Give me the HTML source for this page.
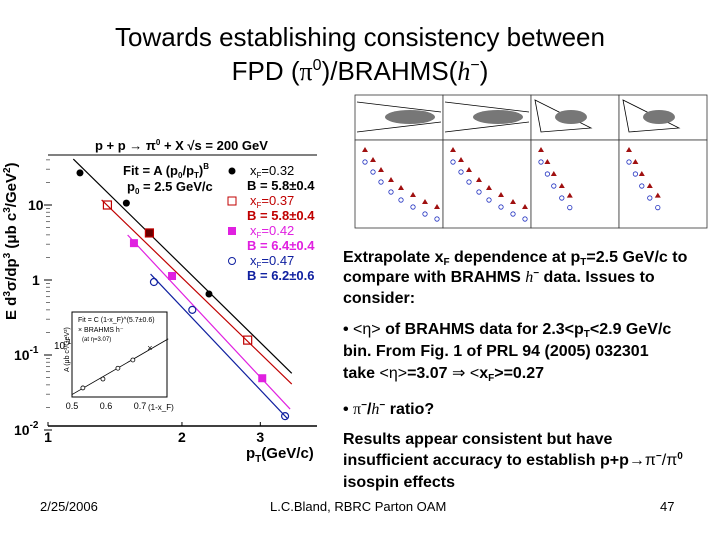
<!DOCTYPE html>
<html><head><meta charset="utf-8"><style>
body{margin:0;background:#fff;}
svg{display:block;font-family:"Liberation Sans",sans-serif;}
</style></head><body>
<svg id="s" width="720" height="540" viewBox="0 0 720 540">
<g font-size="26" text-anchor="middle">
<text x="360" y="46">Towards establishing consistency between</text>
<text x="360" y="80">FPD (<tspan font-family="Liberation Serif">π</tspan><tspan font-size="16" dy="-10">0</tspan><tspan dy="10">)/BRAHMS(</tspan><tspan font-family="Liberation Serif" font-style="italic">h</tspan><tspan font-size="16" dy="-10">−</tspan><tspan dy="10">)</tspan></text>
</g>
<g id="chart"></g>
<g id="brahms"></g>
<g font-size="16" font-weight="bold" fill="#000">
<text x="343" y="262">Extrapolate x<tspan font-size="10" dy="3">F</tspan><tspan dy="-3"> dependence at p</tspan><tspan font-size="10" dy="3">T</tspan><tspan dy="-3">=2.5 GeV/c to</tspan></text>
<text x="343" y="282">compare with BRAHMS <tspan font-family="Liberation Serif" font-style="italic" font-weight="normal">h</tspan><tspan font-size="10" dy="-6">−</tspan><tspan dy="6"> data.  Issues to</tspan></text>
<text x="343" y="303">consider:</text>
<text x="343" y="334">•  <tspan font-weight="normal">&lt;η&gt;</tspan> of BRAHMS data for 2.3&lt;p<tspan font-size="10" dy="3">T</tspan><tspan dy="-3">&lt;2.9 GeV/c</tspan></text>
<text x="343" y="356">bin.  From Fig. 1 of PRL 94 (2005) 032301</text>
<text x="343" y="378">take <tspan font-weight="normal">&lt;η&gt;</tspan>=3.07 <tspan font-weight="normal">⇒ &lt;</tspan>x<tspan font-size="10" dy="3">F</tspan><tspan dy="-3">&gt;=0.27</tspan></text>
<text x="343" y="414">• <tspan font-family="Liberation Serif" font-weight="normal">π</tspan><tspan font-size="10" dy="-6">−</tspan><tspan dy="6">/</tspan><tspan font-family="Liberation Serif" font-style="italic" font-weight="normal">h</tspan><tspan font-size="10" dy="-6">−</tspan><tspan dy="6"> ratio?</tspan></text>
<text x="343" y="444">Results appear consistent but have</text>
<text x="343" y="465">insufficient accuracy to establish p+p<tspan font-weight="normal">→π</tspan><tspan font-size="10" dy="-6">−</tspan><tspan dy="6" font-weight="normal">/π</tspan><tspan font-size="10" dy="-6">0</tspan></text>
<text x="343" y="487">isospin effects</text>
</g>
<g font-size="13">
<text x="40" y="511">2/25/2006</text>
<text x="270" y="511">L.C.Bland, RBRC Parton OAM</text>
<text x="660" y="511">47</text>
</g>
</svg>
<script>
// main chart data
const ptBlack=[1.18,1.50,2.30];
const valBlack=[26.8,10.6,0.65];
const ptRed=[1.36,1.69,2.81];
const valRed=[10,4.24,0.158];
const ptMag=[1.56,1.90,3.03];
const valMag=[3.1,1.13,0.049];
const ptBlue=[1.73,2.11,3.41];
const valBlue=[0.94,0.40,0.0153];
const fitPt=[[1.14,3.53],[1.32,3.53],[1.51,3.50],[1.70,3.46]];
const fitVal=[[41,0.057],[11.7,0.041],[3.98,0.019],[1.20,0.014]];
const xTicks=[1,2,3];
const yTickExp=[1,0,-1,-2];
// inset data
const insetX=[0.532,0.591,0.635,0.679,0.729];
const insetY=[0.0095,0.0155,0.028,0.044,0.085];
const insetXTicks=[0.5,0.6,0.7];

const NS="http://www.w3.org/2000/svg";
function mk(p,t,a,txt){const e=document.createElementNS(NS,t);for(const k in a)e.setAttribute(k,a[k]);if(txt!==undefined)e.textContent=txt;p.appendChild(e);return e;}
const X=v=>48+445*Math.log10(v);
const Y=v=>280-75*Math.log10(v);
const IX=v=>72+340*(v-0.5);
const IY=v=>345-42*(Math.log10(v)+1);
const ch=document.getElementById('chart');

let e=mk(ch,'line',{x1:48,y1:155,x2:317,y2:155,stroke:'#000'});

e=mk(ch,'line',{x1:48,y1:426,x2:317,y2:426,stroke:'#000','stroke-width':1.5});

// minor y ticks
for(let d=-2;d<=1;d++){for(let m=2;m<=9;m++){const v=m*Math.pow(10,d);const y=Y(v);if(y<155)continue;
 e=mk(ch,'line',{x1:46,y1:y,x2:50,y2:y,stroke:'#555','stroke-width':0.8});
 }}
yTickExp.forEach(p=>{const y=Y(Math.pow(10,p));
 e=mk(ch,'line',{x1:44,y1:y,x2:52,y2:y,stroke:'#000'});
 
 if(p===0||p===1){e=mk(ch,'text',{x:p===1?28:32,y:y+5,'font-size':14,'font-weight':'bold'},p===1?'10':'1');}
 else{e=mk(ch,'text',{x:14,y:y+5,'font-size':14,'font-weight':'bold'},'10');mk(e,'tspan',{dy:-7,'font-size':10},String(p));}
 });
xTicks.forEach(v=>{const x=X(v);
 e=mk(ch,'line',{x1:x,y1:422,x2:x,y2:426,stroke:'#000'});
 
 e=mk(ch,'text',{x:x,y:442,'font-size':14,'font-weight':'bold','text-anchor':'middle'},String(v));
 });
e=mk(ch,'text',{x:246,y:458,'font-size':15,'font-weight':'bold'},'p');
mk(e,'tspan',{dy:4,'font-size':10},'T');mk(e,'tspan',{dy:-4},'(GeV/c)');

e=mk(ch,'text',{x:0,y:0,'font-size':15,'font-weight':'bold',transform:'translate(16,320) rotate(-90)'},'E d');
mk(e,'tspan',{dy:-6,'font-size':10},'3');mk(e,'tspan',{dy:6},'σ/dp');mk(e,'tspan',{dy:-6,'font-size':10},'3');mk(e,'tspan',{dy:6},' (μb c');mk(e,'tspan',{dy:-6,'font-size':10},'3');mk(e,'tspan',{dy:6},'/GeV');mk(e,'tspan',{dy:-6,'font-size':10},'2');mk(e,'tspan',{dy:6},')');

e=mk(ch,'text',{x:95,y:150,'font-size':13,'font-weight':'bold'},'p + p → π');
mk(e,'tspan',{dy:-5,'font-size':8},'0');mk(e,'tspan',{dy:5},' + X   √s = 200 GeV');

e=mk(ch,'text',{x:123,y:175,'font-size':13,'font-weight':'bold'},'Fit = A (p');
mk(e,'tspan',{dy:3,'font-size':8},'0');mk(e,'tspan',{dy:-3},'/p');mk(e,'tspan',{dy:3,'font-size':8},'T');mk(e,'tspan',{dy:-3},')');mk(e,'tspan',{dy:-6,'font-size':8},'B');

e=mk(ch,'text',{x:127,y:191,'font-size':13,'font-weight':'bold'},'p');
mk(e,'tspan',{dy:3,'font-size':8},'0');mk(e,'tspan',{dy:-3},' = 2.5 GeV/c');


const cols=['#000','#c00000','#e020e0','#1020a0'];
const series=[[ptBlack,valBlack,'circle'],[ptRed,valRed,'opensq'],[ptMag,valMag,'square'],[ptBlue,valBlue,'opencirc']];
const legX=['0.32','0.37','0.42','0.47'],legB=['5.8±0.4','5.8±0.4','6.4±0.4','6.2±0.6'];
series.forEach((s,i)=>{
 e=mk(ch,'line',{x1:X(fitPt[i][0]),y1:Y(fitVal[i][0]),x2:X(fitPt[i][1]),y2:Y(fitVal[i][1]),stroke:cols[i],'stroke-width':1.2});
 
 s[0].forEach((p,j)=>{const x=X(p),y=Y(s[1][j]);
  if(s[2]==='circle')e=mk(ch,'circle',{cx:x,cy:y,r:3.5,fill:cols[i]});
  else if(s[2]==='square')e=mk(ch,'rect',{x:x-4,y:y-4,width:8,height:8,fill:cols[i]});
  else if(s[2]==='opensq')e=mk(ch,'rect',{x:x-4,y:y-4,width:8,height:8,fill:j===1?'#600':'none',stroke:cols[i],'stroke-width':1.2});
  else e=mk(ch,'circle',{cx:x,cy:y,r:3.5,fill:'none',stroke:cols[i],'stroke-width':1.2});
  });
 const ly=175+i*30;
 e=mk(ch,'text',{x:250,y:ly,'font-size':13,fill:cols[i]},'x');
 mk(e,'tspan',{dy:3,'font-size':8},'F');mk(e,'tspan',{dy:-3},'='+legX[i]);
 
 e=mk(ch,'text',{x:247,y:ly+15,'font-size':13,'font-weight':'bold',fill:cols[i]},'B = '+legB[i]);
 
 if(s[2]==='circle')e=mk(ch,'circle',{cx:232,cy:ly-4,r:3.5,fill:cols[i]});
 else if(s[2]==='square')e=mk(ch,'rect',{x:228,y:ly-8,width:8,height:8,fill:cols[i]});
 else if(s[2]==='opensq')e=mk(ch,'rect',{x:228,y:ly-8,width:8,height:8,fill:'none',stroke:cols[i]});
 else e=mk(ch,'circle',{cx:232,cy:ly-4,r:3.5,fill:'none',stroke:cols[i]});
 
});
// inset
e=mk(ch,'rect',{x:72,y:312,width:95,height:85,fill:'#fff',stroke:'#000'});

e=mk(ch,'line',{x1:IX(0.5),y1:IY(0.0066),x2:IX(0.783),y2:IY(0.14),stroke:'#000','stroke-width':0.8});

insetX.forEach((v,j)=>{const x=IX(v),y=IY(insetY[j]);
 if(j===insetX.length-1)e=mk(ch,'text',{x:x,y:y+3,'font-size':9,'text-anchor':'middle'},'×');
 else e=mk(ch,'circle',{cx:x,cy:y,r:2,fill:'#fff',stroke:'#000','stroke-width':0.8});
 });
insetXTicks.forEach(v=>{e=mk(ch,'text',{x:IX(v),y:409,'font-size':9,'text-anchor':'middle'},String(v));
 });
e=mk(ch,'text',{x:148,y:410,'font-size':8},'(1-x_F)');
e=mk(ch,'text',{x:78,y:322,'font-size':7},'Fit = C (1-x_F)^(5.7±0.6)');
e=mk(ch,'text',{x:78,y:332,'font-size':7},'× BRAHMS h⁻');
e=mk(ch,'text',{x:82,y:341,'font-size':6},'(at η=3.07)');
e=mk(ch,'text',{x:54,y:349,'font-size':10},'10');mk(e,'tspan',{dy:-5,'font-size':7},'-1');

e=mk(ch,'text',{x:0,y:0,'font-size':7,transform:'translate(69,372) rotate(-90)'},'A (μb c³/GeV²)');


// BRAHMS figure (schematic)
const br=document.getElementById('brahms');
const redPts=[[0,0],[8,10],[16,20],[26,30],[36,38],[48,45],[60,52],[72,57]];
for(let c=0;c<4;c++){const x0=355+c*88;
 e=mk(br,'rect',{x:x0,y:95,width:88,height:45,fill:'#fff',stroke:'#333','stroke-width':0.8});
 
 e=mk(br,'rect',{x:x0,y:140,width:88,height:88,fill:'#fff',stroke:'#333','stroke-width':0.8});
 
 e=mk(br,'path',{d:c<2?`M${x0+2} 102 L${x0+86} 112 M${x0+2} 132 L${x0+86} 122`:`M${x0+4} 100 L${x0+60} 128 L${x0+10} 132 Z`,fill:'none',stroke:'#000','stroke-width':0.8});
 
 e=mk(br,'ellipse',{cx:x0+(c<2?55:40),cy:117,rx:c<2?25:16,ry:7,fill:'#777'});
 
 const n=c<2?8:5;
 for(let k=0;k<n;k++){const px=x0+10+redPts[k][0]*(c<2?1:0.8),py=150+redPts[k][1]*(c<2?1:1.2);
  e=mk(br,'path',{d:`M${px} ${py-3} L${px+3} ${py+2} L${px-3} ${py+2}Z`,fill:'#a01010'});
  
  e=mk(br,'circle',{cx:px,cy:py+12,r:2.2,fill:'none',stroke:'#2030c0','stroke-width':0.8});
  }
}
</script>
</body></html>
